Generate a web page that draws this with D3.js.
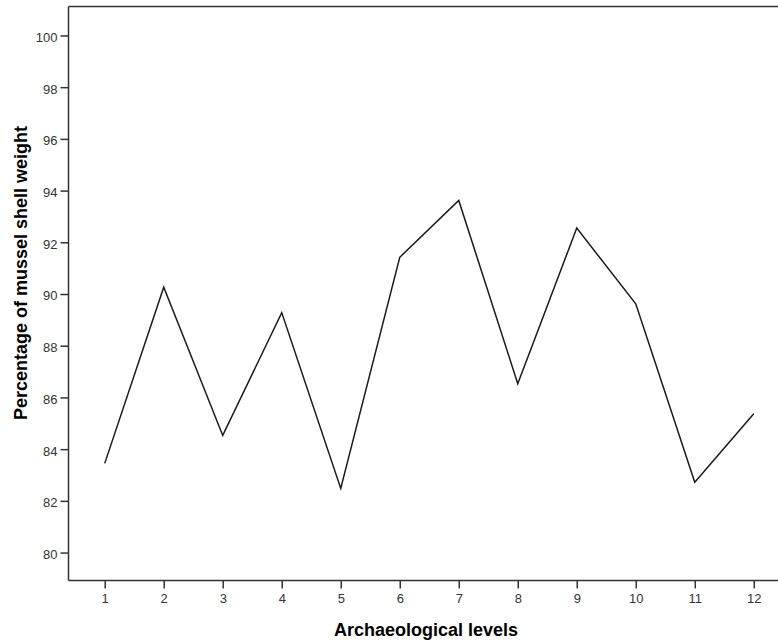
<!DOCTYPE html>
<html>
<head>
<meta charset="utf-8">
<script src="https://cdn.jsdelivr.net/npm/d3@7"></script>
<style>
  html, body { margin: 0; padding: 0; background: #fff; }
  svg { display: block; }
</style>
</head>
<body>
<svg id="chart" width="778" height="643"></svg>
<script>
// Archaeological levels and the share of mussel shell by weight in each
const levels = [1, 2, 3, 4, 5, 6, 7, 8, 9, 10, 11, 12];
const musselPct = [83.45, 90.26, 84.53, 89.28, 82.48, 91.42, 93.62, 86.53, 92.55, 89.62, 82.72, 85.37];
const yTicks = [80, 82, 84, 86, 88, 90, 92, 94, 96, 98, 100];

(function () {
  const svg = d3.select("#chart");
  const plotLeft = 68.5, plotTop = 6.5, plotBottom = 580.5, plotRight = 790;

  const x = d3.scaleLinear().domain([0.386, 12.614]).range([plotLeft, plotRight]);
  const y = d3.scaleLinear().domain([78.92, 101.12]).range([plotBottom, plotTop]);

  const axisColor = "#333";
  const font = "'Liberation Sans', Arial, sans-serif";

  // Frame: top line and axes
  svg.append("line")
    .attr("x1", plotLeft).attr("x2", 778).attr("y1", plotTop).attr("y2", plotTop)
    .attr("stroke", axisColor).attr("stroke-width", 1.5);

  const gx = svg.append("g").attr("transform", `translate(0,${plotBottom})`)
    .call(d3.axisBottom(x).tickValues(levels).tickSize(8).tickSizeOuter(0).tickPadding(5));
  const gy = svg.append("g").attr("transform", `translate(${plotLeft},0)`)
    .call(d3.axisLeft(y).tickValues(yTicks).tickSize(8).tickSizeOuter(0).tickPadding(3));

  [gx, gy].forEach(g => {
    g.select(".domain").attr("stroke", axisColor).attr("stroke-width", 1.5);
    g.selectAll(".tick line").attr("stroke", axisColor).attr("stroke-width", 1.5);
    g.selectAll(".tick text").attr("fill", "#333").style("font-family", font).style("font-size", "13px");
  });
  gx.select(".domain").attr("d", `M${plotLeft},0H778`);
  gy.select(".domain").attr("d", `M0,${plotTop}V${plotBottom}`);
  gy.selectAll(".tick text").attr("dy", "0.45em");

  // Data line
  const line = d3.line().x((d, i) => x(levels[i])).y(d => y(d));
  svg.append("path")
    .datum(musselPct)
    .attr("d", line)
    .attr("fill", "none")
    .attr("stroke", "#1a1a1a")
    .attr("stroke-width", 1.5)
    .attr("stroke-linejoin", "miter");

  // Axis titles
  svg.append("text")
    .attr("x", 426).attr("y", 636)
    .attr("text-anchor", "middle")
    .style("font-family", font).style("font-size", "18px").style("font-weight", "bold")
    .attr("fill", "#000")
    .text("Archaeological levels");

  svg.append("text")
    .attr("transform", "translate(27,273) rotate(-90)")
    .attr("text-anchor", "middle")
    .style("font-family", font).style("font-size", "18px").style("font-weight", "bold")
    .attr("fill", "#000")
    .text("Percentage of mussel shell weight");
})();
</script>
</body>
</html>
